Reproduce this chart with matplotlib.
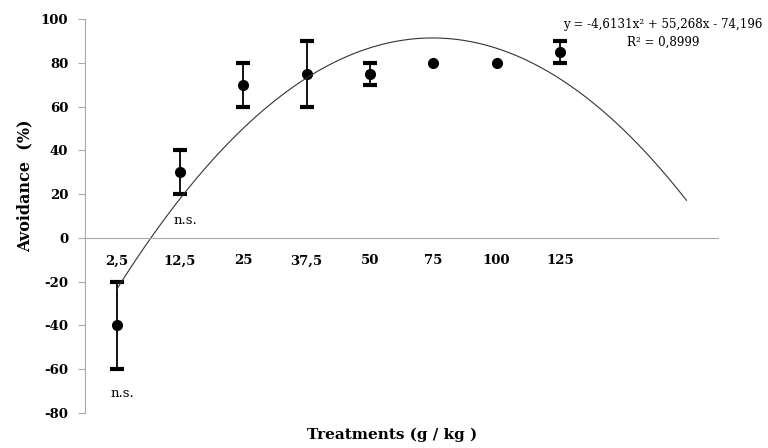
import numpy as np
import matplotlib
matplotlib.use('Agg')
import matplotlib.pyplot as plt

# '#' data
treatments = ['2,5', '12,5', '25', '37,5', '50', '75', '100', '125']
avoidance = [-40, 30, 70, 75, 75, 80, 80, 85]
errors = [20, 10, 10, 15, 5, 0, 0, 5]
ns_labels = ['n.s.', 'n.s.']
ns_index = [0, 1]
ns_value = [-71, 8]
# '#' polynomial trendline y = a x^2 + b x + c, x = treatment index
coef = [-4.6131, 55.268, -74.196]
r2 = 0.8999

plt.rcParams['font.family'] = ['DejaVu Serif']
plt.rcParams['axes.unicode_minus'] = False

fig = plt.figure(figsize=(7.68, 4.48), dpi=100)
ax = fig.add_axes([0.1107, 0.0781, 0.8243, 0.8795])

x = np.arange(1, len(treatments) + 1)
av = np.array(avoidance)
er = np.array(errors)
has_err = er > 0
ax.errorbar(x[has_err], av[has_err], yerr=er[has_err], fmt='none', ecolor='black',
            elinewidth=1.3, capsize=5, capthick=3)
ax.plot(x, av, 'o', color='black', ms=7)

# '#' trendline from index 1 to 10
xs = np.linspace(1, 10, 300)
ax.plot(xs, np.polyval(coef, xs), color='#333333', lw=0.8)

ax.set_xlim(0.5, 10.5)
ax.set_ylim(-80, 100)
ax.set_yticks(np.arange(-80, 101, 20))
ax.set_xticks([])

for s in ['top', 'right']:
    ax.spines[s].set_visible(False)
ax.spines['bottom'].set_position(('data', 0))
ax.spines['bottom'].set_color('#aaaaaa')
ax.spines['left'].set_color('#aaaaaa')
ax.tick_params(axis='y', length=5, color='#aaaaaa', labelsize=9.5, pad=7)
for lbl in ax.get_yticklabels():
    lbl.set_fontweight('bold')

# '#' category labels sit just under the zero line
for xi, t in zip(x, treatments):
    ax.text(xi, -10.5, t, ha='center', va='center', fontsize=9.5, fontweight='bold')

for i, lab in enumerate(ns_labels):
    ax.text(x[ns_index[i]] - 0.1, ns_value[i], lab, ha='left', va='center', fontsize=9.5)

ax.text(11.2, 97.7, 'y = -4,6131x² + 55,268x - 74,196', ha='right', va='center',
        fontsize=8.6, clip_on=False)
ax.text(9.64, 89.5, 'R² = ' + str(r2).replace('.', ','), ha='center', va='center', fontsize=8.6)

fig.text(0.032, 0.585, 'Avoidance  (%)', rotation=90, ha='center', va='center',
         fontsize=11.5, fontweight='bold')
fig.text(0.51, 0.029, 'Treatments (g / kg )', ha='center', va='center',
         fontsize=11, fontweight='bold')

fig.savefig('out.png', dpi=100)
